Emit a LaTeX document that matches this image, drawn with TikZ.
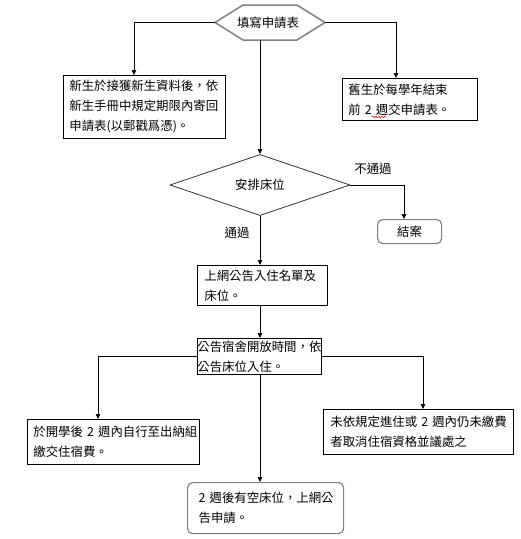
\documentclass[tikz,border=0pt]{standalone}
\usepackage{fontspec}
\setmainfont{Noto Sans CJK TC}
\usetikzlibrary{shapes.geometric,arrows.meta,decorations.pathmorphing}
\begin{document}
\begin{tikzpicture}[x=1pt,y=-1pt,
  font=\fontsize{12.4}{20}\selectfont,
  box/.style={draw=black, line width=0.8pt, rectangle, anchor=north west,
    inner ysep=0pt, align=left},
  rbox/.style={box, draw=gray, line width=1.2pt, rounded corners=5pt},
  arr/.style={-{Triangle[width=4.5pt,length=5pt]}, line width=0.8pt},
  lbl/.style={inner sep=0pt}]
\useasboundingbox (0,0) rectangle (521,539);

% hexagon start
\coordinate (hexL) at (215,22.5);
\coordinate (hexR) at (325,22.5);
\coordinate (hexB) at (260,40);
\draw[gray, line width=1.5pt] (hexL) -- (243,5) -- (297,5) -- (hexR) -- (297,40) -- (243,40) -- cycle;
\node[lbl] (hex) at (268,22.5) {填寫申請表};

% boxes
\node[box, text width=150pt, inner xsep=6pt, minimum height=63pt] (box1) at (63,75)
  {新生於接獲新生資料後，依\\新生手冊中規定期限內寄回\\申請表(以郵戳爲憑)。};
\node[box, text width=123pt, inner xsep=6pt, minimum height=42pt] (box2) at (342,78)
  {舊生於每學年結束\\前~2~週交申請表。};
\draw[red, line width=0.5pt, decorate, decoration={snake, amplitude=0.9pt, segment length=3pt}] (372,117) -- (386,117);

\node[diamond, draw=black!80, line width=0.8pt, minimum width=180pt, minimum height=58pt, inner sep=0pt] (dia) at (260,185) {安排床位};

\node[rbox, minimum width=64pt, minimum height=24pt, align=center, inner xsep=0pt] (jie) at (377,219) {結案};

\node[box, text width=116pt, inner xsep=7pt, minimum height=40pt] (box3) at (197,265)
  {上網公告入住名單及\\床位。};
\node[box, text width=124pt, inner xsep=0pt, minimum height=36pt] (box4) at (197,338)
  {公告宿舍開放時間，依\\公告床位入住。};
\node[box, text width=160pt, inner xsep=6pt, minimum height=45pt] (box5) at (27,419)
  {於開學後~2~週內自行至出納組\\繳交住宿費。};
\node[box, text width=176pt, inner xsep=7pt, minimum height=45pt] (box6) at (323,409)
  {未依規定進住或~2~週內仍未繳費\\者取消住宿資格並議處之};
\node[rbox, text width=134pt, inner xsep=11pt, minimum height=51pt] (box7) at (187,482)
  {2~週後有空床位，上網公\\告申請。};

% labels
\node[lbl] (nopass) at (373,169) {不通過};
\node[lbl] (pass) at (237,233) {通過};

% connectors
\draw[arr] (hexL) -| ([xshift=71pt]box1.north west);
\draw[arr] (hexR) -| ([xshift=54pt]box2.north west);
\draw[arr] (hexB) -- (dia.north);
\draw[arr] (dia.east) -| ([xshift=27pt]jie.north west);
\draw[arr] (dia.south) -- ([xshift=63pt]box3.north west);
\draw[arr] ([xshift=63pt]box3.south west) -- ([xshift=63pt]box4.north west);
\draw[arr] (box4.west) -| ([xshift=71pt]box5.north west);
\draw[arr] (box4.east) -| ([xshift=100pt]box6.north west);
\draw[arr] ([xshift=63pt]box4.south west) -- ([xshift=73pt]box7.north west);
\end{tikzpicture}
\end{document}
